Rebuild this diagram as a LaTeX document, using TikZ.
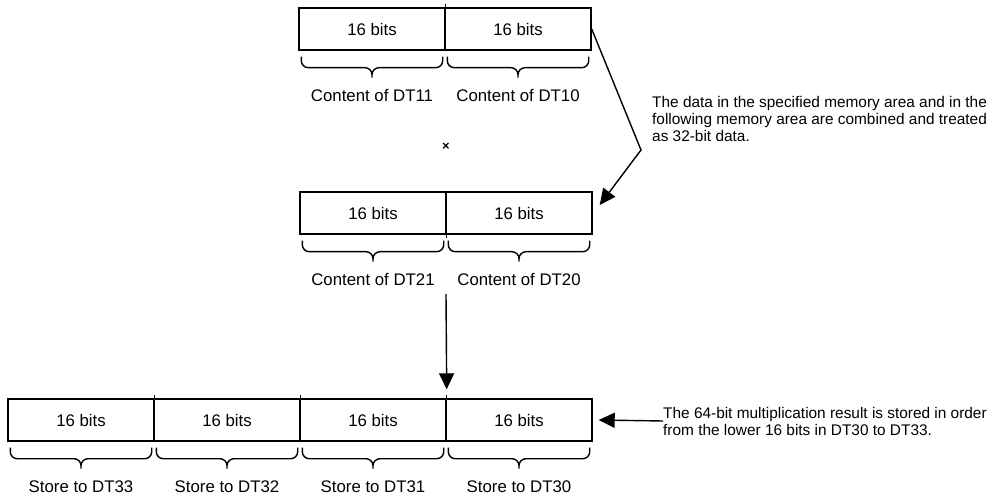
\documentclass[tikz,border=0pt]{standalone}
\usepackage{fontspec}
\setmainfont{Liberation Sans}
\usetikzlibrary{arrows.meta,calc}
\begin{document}
\begin{tikzpicture}[x=1pt,y=-1pt,
  cell/.style={draw,line width=1.4pt,minimum width=146pt,minimum height=42pt,inner sep=0pt,font=\fontsize{16.8}{18}\selectfont},
  lbl/.style={font=\fontsize{16.8}{18}\selectfont,inner sep=0pt},
  note/.style={font=\fontsize{15.4}{17}\selectfont,align=left,inner sep=0pt},
  brc/.style={line width=1.4pt,rounded corners=7pt},
  arr/.style={line width=1.4pt,-{Triangle[length=16pt,width=15pt]}}]
\useasboundingbox (0,0) rectangle (996,497);
% top row
\node[cell] (t1) at (372,29) {16 bits};
\node[cell] (t2) at (518,29) {16 bits};
% middle row
\node[cell] (m1) at (373,213) {16 bits};
\node[cell] (m2) at (519,213) {16 bits};
% bottom row
\node[cell] (b4) at (81,420) {16 bits};
\node[cell] (b3) at (227,420) {16 bits};
\node[cell] (b2) at (373,420) {16 bits};
\node[cell] (b1) at (519,420) {16 bits};
% divider overshoots
\draw[line width=1.4pt] ([yshift=3pt]t1.north east) -- (t1.south east);
\draw[line width=1.4pt] (m1.north east) -- ([yshift=-3pt]m1.south east);
\foreach \c in {b4,b3,b2} \draw[line width=1.4pt] ([yshift=3pt]\c.north east) -- (\c.south east);
% braces and labels
\foreach \c/\t in {t1/Content of DT11,t2/Content of DT10,m1/Content of DT21,m2/Content of DT20,b4/Store to DT33,b3/Store to DT32,b2/Store to DT31,b1/Store to DT30}{
  \draw[brc] let \p1=(\c.south west), \p2=(\c.south east), \p3=(\c.south) in
    (\x1+3pt,\y1-6pt) |- (\x3,\y1-17pt) -- (\x3,\y1-27pt)
    (\x2-3pt,\y1-6pt) |- (\x3,\y1-17pt) -- (\x3,\y1-27pt);
  \node[lbl] (l\c) at ([yshift=-45pt]\c.south) {\t};
}
% multiplication sign
\node[font=\bfseries\fontsize{13}{14}\selectfont,inner sep=0pt] (x) at (446,147) {×};
% annotation 1
\coordinate (bend) at (641,150);
\draw[arr] (t2.east) -- (bend) -- ([xshift=7pt,yshift=8pt]m2.east);
\node[note,anchor=north west] (n1) at (652,96) {The data in the specified memory area and in the\\following memory area are combined and treated\\as 32-bit data.};
% down arrow
\coordinate (dstart) at (446,294);
\draw[arr] (dstart) -- ([yshift=9pt]b2.north east);
% annotation 2
\node[note,anchor=west] (n2) at (663,421) {The 64-bit multiplication result is stored in order\\from the lower 16 bits in DT30 to DT33.};
\draw[arr] (n2.west) -- ([xshift=6pt]b1.east);
\end{tikzpicture}
\end{document}
